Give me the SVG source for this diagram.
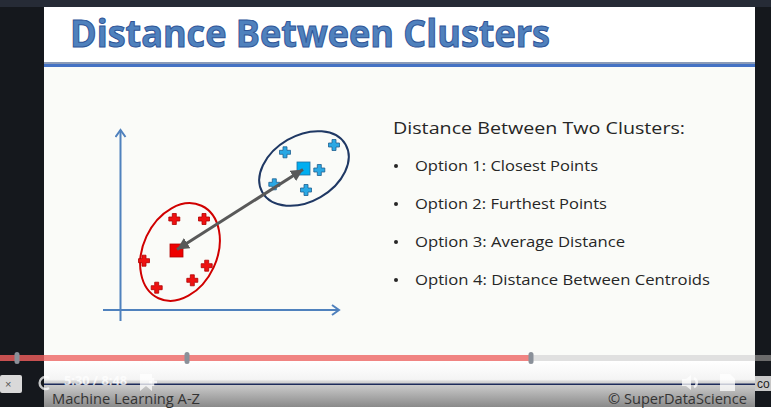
<svg xmlns="http://www.w3.org/2000/svg" width="771" height="419" viewBox="0 0 771 419">
<style>
.ttl{font-family:"Open Sans","Liberation Sans",sans-serif;font-weight:700;font-size:37px;fill:#4f81bd;stroke:#2f5597;stroke-width:1}
.hd{font-family:"Open Sans","Liberation Sans",sans-serif;font-size:17px;fill:#262626}
.opt{font-family:"Open Sans","Liberation Sans",sans-serif;font-size:15px;fill:#262626}
.foot{font-family:"Open Sans","Liberation Sans",sans-serif;font-size:14px;fill:#333}
.axis{stroke:#4f81bd;stroke-width:2;fill:none}
.rc{fill:#ee1111;stroke:#b00000;stroke-width:0.8}
.bc{fill:#2aa8e4;stroke:#1f5f8f;stroke-width:0.8}
.thumb{fill:#8a9099}
.ico{fill:none;stroke:#ffffff;stroke-opacity:0.75;stroke-width:2.5}
</style>
<defs>
<path id="plus" d="M-2,-5.5H2V-2H5.5V2H2V5.5H-2V2H-5.5V-2H-2Z"/>
<marker id="ax" markerWidth="12" markerHeight="12" refX="9" refY="6" orient="auto" markerUnits="userSpaceOnUse">
<path d="M2,1L9,6L2,11" fill="none" stroke="#4f81bd" stroke-width="2"/>
</marker>
<marker id="ah" markerWidth="14" markerHeight="12" refX="12" refY="6" orient="auto-start-reverse" markerUnits="userSpaceOnUse">
<path d="M0,0L12,6L0,12Z" fill="#595959"/>
</marker>
<linearGradient id="bot" x1="0" y1="0" x2="0" y2="1">
<stop offset="0" stop-color="#ffffff"/>
<stop offset="0.4" stop-color="#f4f4f4"/>
<stop offset="0.45" stop-color="#d4d4d4"/>
<stop offset="1" stop-color="#8a8a8a"/>
</linearGradient>
</defs>
<rect width="771" height="419" fill="#ffffff"/>
<rect x="0" y="0" width="771" height="7" fill="#262b36"/>
<rect x="0" y="7" width="44" height="400" fill="#15181d"/>
<rect x="755" y="7" width="16" height="400" fill="#15181d"/>
<rect x="44" y="7" width="711" height="360" fill="#ffffff"/>
<rect x="44" y="67" width="711" height="290" fill="#fafbf8"/>
<g id="title">
<text class="ttl" x="70" y="47" textLength="480" lengthAdjust="spacingAndGlyphs">Distance Between Clusters</text>
<rect x="44" y="62" width="711" height="2" fill="#8a9bb8"/>
<rect x="44" y="64" width="711" height="3" fill="#4472c4"/>
</g>
<g id="axes">
<line class="axis" x1="120.5" y1="321" x2="120.5" y2="130" marker-end="url(#ax)"/>
<line class="axis" x1="103" y1="310" x2="339" y2="310" marker-end="url(#ax)"/>
</g>
<g id="cluster-red">
<ellipse cx="180" cy="252" rx="37" ry="51" transform="rotate(25 180 252)" fill="none" stroke="#d00000" stroke-width="2"/>
<use href="#plus" class="rc" x="174.3" y="219"/>
<use href="#plus" class="rc" x="204" y="219"/>
<use href="#plus" class="rc" x="144" y="260.7"/>
<use href="#plus" class="rc" x="206.7" y="265.7"/>
<use href="#plus" class="rc" x="192.3" y="280.3"/>
<use href="#plus" class="rc" x="156.7" y="287.7"/>
<rect x="170" y="244" width="13" height="13" fill="#ee0000" stroke="#b00000" stroke-width="0.8"/>
</g>
<g id="cluster-blue">
<ellipse cx="304" cy="168.5" rx="48" ry="33" transform="rotate(-30 304 168.5)" fill="none" stroke="#1f3864" stroke-width="2"/>
<use href="#plus" class="bc" x="285" y="152.3"/>
<use href="#plus" class="bc" x="334" y="145"/>
<use href="#plus" class="bc" x="319.3" y="170"/>
<use href="#plus" class="bc" x="274.3" y="184.3"/>
<use href="#plus" class="bc" x="306" y="190"/>
<rect x="297" y="162" width="13" height="13" fill="#00aef0" stroke="#1f6fa0" stroke-width="0.8"/>
</g>
<g id="connectors">
<line x1="177" y1="249.5" x2="303" y2="169.5" stroke="#595959" stroke-width="3" marker-start="url(#ah)" marker-end="url(#ah)"/>
</g>
<g id="options">
<text class="hd" x="393" y="134" textLength="292" lengthAdjust="spacingAndGlyphs">Distance Between Two Clusters:</text>
<circle cx="396" cy="166" r="2" fill="#262626"/>
<text class="opt" x="415" y="171" textLength="183" lengthAdjust="spacingAndGlyphs">Option 1: Closest Points</text>
<circle cx="396" cy="204" r="2" fill="#262626"/>
<text class="opt" x="415" y="209" textLength="192" lengthAdjust="spacingAndGlyphs">Option 2: Furthest Points</text>
<circle cx="396" cy="242" r="2" fill="#262626"/>
<text class="opt" x="415" y="247" textLength="210" lengthAdjust="spacingAndGlyphs">Option 3: Average Distance</text>
<circle cx="396" cy="280" r="2" fill="#262626"/>
<text class="opt" x="415" y="285" textLength="295" lengthAdjust="spacingAndGlyphs">Option 4: Distance Between Centroids</text>
</g>
<g id="player">
<rect x="44" y="361" width="711" height="46" fill="url(#bot)"/>
<rect x="0" y="355" width="44" height="6" fill="#c65050"/>
<rect x="44" y="355" width="487" height="6" fill="#f08482"/>
<rect x="531" y="355" width="224" height="6" fill="#e0e0e0"/>
<rect x="755" y="355" width="16" height="6" fill="#6b6b6b"/>
<rect x="14.5" y="352" width="5" height="12" rx="2.5" class="thumb"/>
<rect x="184.5" y="352" width="5" height="12" rx="2.5" class="thumb"/>
<rect x="528.5" y="352" width="5" height="12" rx="2.5" class="thumb"/>
<rect x="44" y="383.5" width="711" height="1.5" fill="#1c2a5a"/>
<rect x="0" y="375" width="22" height="18" rx="2" fill="#d9d9d9"/>
<text x="5" y="388" font-family="Liberation Sans, sans-serif" font-size="11" fill="#555">×</text>
<rect x="755" y="376" width="16" height="15" fill="#c8c8c8"/>
<text x="757" y="388" font-family="Liberation Sans, sans-serif" font-size="12" fill="#222">co</text>
<path class="ico" d="M49,378A6,6 0 1 0 49,388"/>
<text x="64" y="385" font-family="Open Sans, Liberation Sans, sans-serif" font-weight="700" font-size="11.5" fill="#ffffff" fill-opacity="0.8" textLength="63" lengthAdjust="spacingAndGlyphs">5:30 / 8:48</text>
<path d="M140,374H152V391L146,386L140,391Z" fill="#ffffff" fill-opacity="0.75"/>
<path class="ico" d="M153,378V386M149,382H157"/>
<path d="M682,379H686L691,375V390L686,386H682Z" fill="#ffffff" fill-opacity="0.75"/>
<path class="ico" d="M694,378A5,5 0 0 1 694,387"/>
<path d="M720,374H730L735,379V391H720Z" fill="#ffffff" fill-opacity="0.75"/>
<text class="foot" x="52" y="404" textLength="148" lengthAdjust="spacingAndGlyphs">Machine Learning A-Z</text>
<text class="foot" x="608" y="404" textLength="139" lengthAdjust="spacingAndGlyphs">© SuperDataScience</text>
</g>
</svg>
